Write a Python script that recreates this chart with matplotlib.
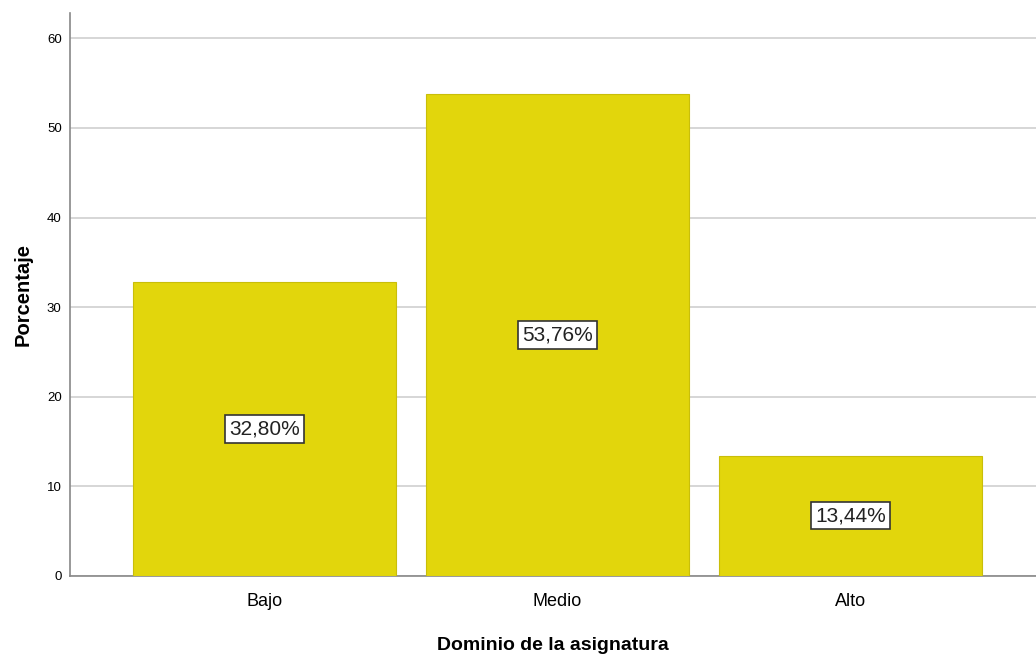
import matplotlib.pyplot as plt
import matplotlib
from matplotlib import font_manager
matplotlib.rcParams['font.family'] = ['Liberation Sans', 'DejaVu Sans']

categorias = ['Bajo', 'Medio', 'Alto']
porcentajes = [32.80, 53.76, 13.44]
etiquetas = ['32,80%', '53,76%', '13,44%']

# fuente estrecha para las etiquetas, si existe
nombres = {f.name for f in font_manager.fontManager.ttflist}
fuente_etiqueta = 'Liberation Sans Narrow' if 'Liberation Sans Narrow' in nombres else 'Liberation Sans'

fig = plt.figure(figsize=(10.36, 6.59), dpi=100)
ax = fig.add_axes([0.0676, 0.126, 0.9324, 0.854])

x = list(range(len(categorias)))
ax.bar(x, porcentajes, width=0.898, color='#E2D60C', edgecolor='#C9BE0A',
       linewidth=0.8, zorder=3)

for xi, v, et in zip(x, porcentajes, etiquetas):
    ax.text(xi, v / 2, et, ha='center', va='center', fontsize=15, color='#222222',
            family=[fuente_etiqueta, 'DejaVu Sans'], zorder=4,
            bbox=dict(boxstyle='square,pad=0.2', facecolor='white',
                      edgecolor='#333333', linewidth=1.2))

ax.set_xlim(-0.664, 2.633)
ax.set_ylim(0, 62.8)
ax.set_yticks([0, 10, 20, 30, 40, 50, 60])
ax.set_xticks(x)
ax.set_xticklabels(categorias, fontsize=13)
ax.tick_params(axis='y', length=0, labelsize=9.5, pad=6)
ax.tick_params(axis='x', length=0, pad=12)
ax.grid(True, axis='y', color='#D0D0D0', linewidth=1.2, zorder=0)

for s in ['top', 'right']:
    ax.spines[s].set_visible(False)
ax.spines['left'].set_color('#888888')
ax.spines['bottom'].set_color('#888888')
ax.spines['left'].set_linewidth(1.2)
ax.spines['bottom'].set_linewidth(1.2)

ax.set_ylabel('Porcentaje', fontsize=14.5, fontweight='bold', labelpad=10)
ax.set_xlabel('Dominio de la asignatura', fontsize=14, fontweight='bold', labelpad=20)

plt.savefig('out.png', dpi=100)
